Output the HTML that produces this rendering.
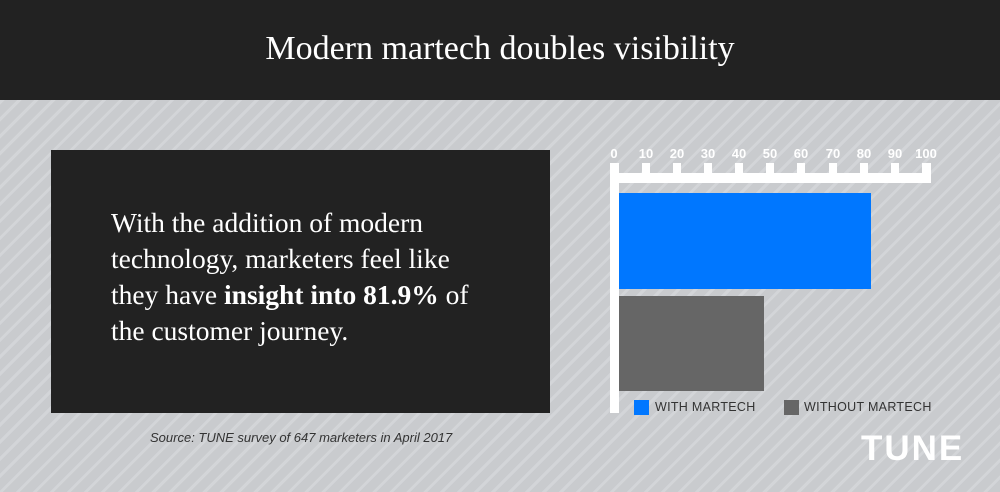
<!DOCTYPE html>
<html><head><meta charset="utf-8"><style>
*{margin:0;padding:0;box-sizing:border-box}
body{width:1000px;height:492px;overflow:hidden;position:relative;font-family:"Liberation Sans",sans-serif;
background:repeating-linear-gradient(-45deg,#c9cbce 0 9px,#d3d5d8 9px 12px);}
.hdr{position:absolute;left:0;top:0;width:1000px;height:100px;background:#222;color:#fff;font-family:"Liberation Serif",serif;font-size:34px;text-align:center;line-height:98px}
.box{position:absolute;left:51px;top:150px;width:499px;height:263px;background:#222;color:#fff;font-family:"Liberation Serif",serif;font-size:27.5px;line-height:36px;padding:55px 0 0 60px;white-space:nowrap}
.src{position:absolute;left:150px;top:430px;font-style:italic;font-size:13px;color:#333}
.w{position:absolute;background:#fff}
.tl{position:absolute;top:146px;font-size:13px;font-weight:bold;color:#fff;width:30px;text-align:center;margin-left:-15px}
.lg{position:absolute;top:400px;font-size:12.5px;color:#333;letter-spacing:.3px}
.sq{position:absolute;top:400px;width:15px;height:15px}
.tune{position:absolute;left:861px;top:429px;font-size:35px;font-weight:bold;color:#fff;letter-spacing:2px}
</style></head><body>
<div class="hdr">Modern martech doubles visibility</div>
<div class="box">With the addition of modern<br>technology, marketers feel like<br>they have <b>insight into 81.9%</b> of<br>the customer journey.</div>
<div class="src">Source: TUNE survey of 647 marketers in April 2017</div>
<div class="w" style="left:610px;top:163px;width:9px;height:250px"></div>
<div class="w" style="left:610px;top:173px;width:321px;height:10px"></div>
<div class="w" style="left:642px;top:163px;width:8px;height:12px"></div>
<div class="w" style="left:673px;top:163px;width:8px;height:12px"></div>
<div class="w" style="left:704px;top:163px;width:8px;height:12px"></div>
<div class="w" style="left:735px;top:163px;width:8px;height:12px"></div>
<div class="w" style="left:766px;top:163px;width:8px;height:12px"></div>
<div class="w" style="left:797px;top:163px;width:8px;height:12px"></div>
<div class="w" style="left:829px;top:163px;width:8px;height:12px"></div>
<div class="w" style="left:860px;top:163px;width:8px;height:12px"></div>
<div class="w" style="left:891px;top:163px;width:8px;height:12px"></div>
<div class="w" style="left:922px;top:163px;width:9px;height:12px"></div>
<div class="tl" style="left:614px">0</div><div class="tl" style="left:646px">10</div><div class="tl" style="left:677px">20</div><div class="tl" style="left:708px">30</div><div class="tl" style="left:739px">40</div><div class="tl" style="left:770px">50</div><div class="tl" style="left:801px">60</div><div class="tl" style="left:833px">70</div><div class="tl" style="left:864px">80</div><div class="tl" style="left:895px">90</div><div class="tl" style="left:926px">100</div>
<div style="position:absolute;left:619px;top:193px;width:252px;height:96px;background:#0077ff"></div>
<div style="position:absolute;left:619px;top:296px;width:145px;height:95px;background:#666"></div>
<div class="sq" style="left:634px;background:#0077ff"></div><div class="lg" style="left:655px">WITH MARTECH</div>
<div class="sq" style="left:784px;background:#666"></div><div class="lg" style="left:804px">WITHOUT MARTECH</div>
<div class="tune">TUNE</div>
</body></html>
